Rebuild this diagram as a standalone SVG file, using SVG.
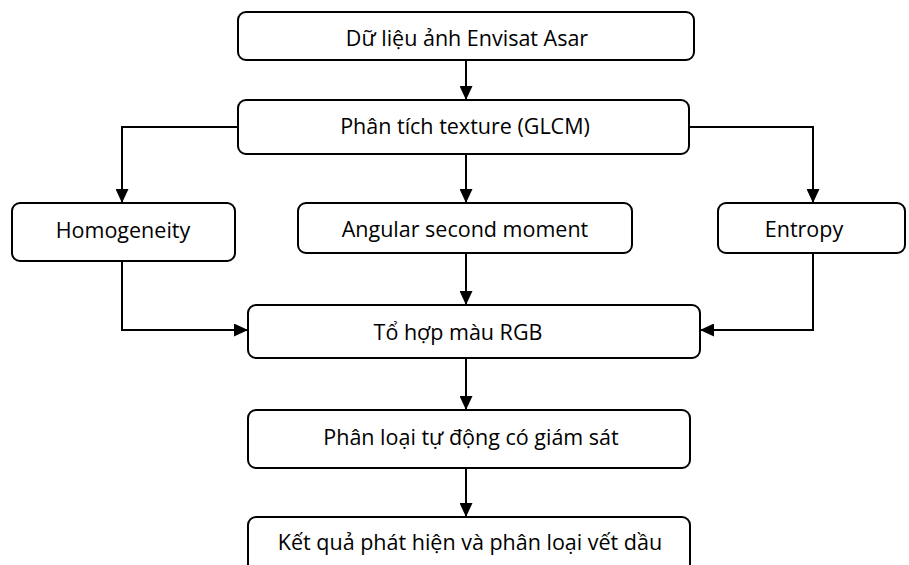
<svg xmlns="http://www.w3.org/2000/svg" width="909" height="565" viewBox="0 0 909 565">
<defs>
<marker id="ah" markerWidth="14" markerHeight="13" refX="14" refY="6.5" orient="auto" markerUnits="userSpaceOnUse">
<path d="M0,0 L14,6.5 L0,13 Z" fill="#000"/>
</marker>
<style>
.box{fill:#fff;stroke:#000;stroke-width:2}
.t{font-family:"Open Sans","Liberation Sans",sans-serif;font-size:21.5px;fill:#000;text-anchor:middle}
.c{fill:none;stroke:#000;stroke-width:2;marker-end:url(#ah)}
</style>
</defs>
<rect width="909" height="565" fill="#fff"/>
<g id="connectors">
<path class="c" d="M466,60 V100"/>
<path class="c" d="M238,127 H122 V203"/>
<path class="c" d="M689,127 H813 V203"/>
<path class="c" d="M466,154 V203"/>
<path class="c" d="M122,261 V330 H248"/>
<path class="c" d="M813,253 V330 H700"/>
<path class="c" d="M466,253 V305"/>
<path class="c" d="M466,358 V410"/>
<path class="c" d="M466,468 V517"/>
</g>
<g id="n1"><rect class="box" x="238" y="12" width="456" height="48" rx="8"/><text class="t" x="467" y="46">Dữ liệu ảnh Envisat Asar</text></g>
<g id="n2"><rect class="box" x="238" y="100" width="451" height="54" rx="8"/><text class="t" x="465" y="134">Phân tích texture (GLCM)</text></g>
<g id="n3"><rect class="box" x="12" y="203" width="223" height="58" rx="8"/><text class="t" x="123" y="238">Homogeneity</text></g>
<g id="n4"><rect class="box" x="298" y="203" width="334" height="50" rx="8"/><text class="t" x="465" y="237">Angular second moment</text></g>
<g id="n5"><rect class="box" x="718" y="203" width="187" height="50" rx="8"/><text class="t" x="804" y="237">Entropy</text></g>
<g id="n6"><rect class="box" x="248" y="305" width="452" height="53" rx="8"/><text class="t" x="458" y="340">Tổ hợp màu RGB</text></g>
<g id="n7"><rect class="box" x="248" y="410" width="442" height="58" rx="8"/><text class="t" x="471" y="445">Phân loại tự động có giám sát</text></g>
<g id="n8"><rect class="box" x="248" y="517" width="442" height="56" rx="8"/><text class="t" x="470" y="550">Kết quả phát hiện và phân loại vết dầu</text></g>
</svg>
